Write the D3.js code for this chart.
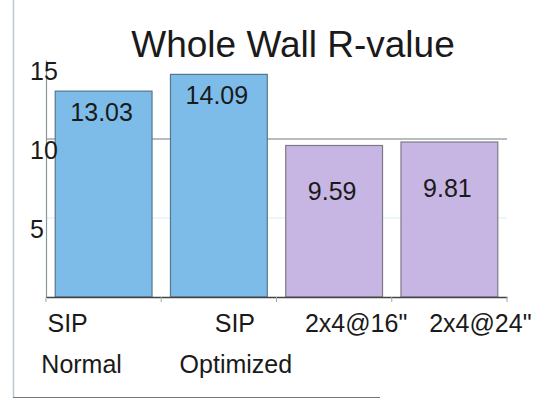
<!DOCTYPE html>
<html>
<head>
<meta charset="utf-8">
<script src="https://cdn.jsdelivr.net/npm/d3@7"></script>
<style>
  html, body { margin: 0; padding: 0; background: #fff; }
  svg { display: block; font-family: "Liberation Sans", Arial, sans-serif; }
</style>
</head>
<body>
<svg id="chart" width="542" height="399"></svg>
<script>
// Wall assemblies and their whole-wall R-values
const categories = ["SIP Normal", "SIP Optimized", "2x4@16\"", "2x4@24\""];
const categoryLines = [["SIP", "Normal"], ["SIP", "Optimized"], ["2x4@16\""], ["2x4@24\""]];
const rValues = [13.03, 14.09, 9.59, 9.81];
const wallType = ["SIP", "SIP", "stud", "stud"];
const yTicks = [5, 10, 15];
const titleText = "Whole Wall R-value";

// Styling per wall type
const fillByType = { SIP: "#7dbce9", stud: "#c7b5e3" };
const strokeByType = { SIP: "#56768a", stud: "#7d7a86" };
const labelDropByType = { SIP: 30, stud: 55 };
// Horizontal nudges of the category label lines (Excel-style wrapping)
const lineNudge = [[-36, -22], [16, 17], [22], [31]];

const svg = d3.select("#chart");

// Frame lines on the left and bottom
svg.append("line").attr("x1", 13.5).attr("x2", 13.5).attr("y1", 0).attr("y2", 398)
  .attr("stroke", "#b9c9cf").attr("stroke-width", 1.5);
svg.append("line").attr("x1", 13).attr("x2", 380).attr("y1", 397.5).attr("y2", 397.5)
  .attr("stroke", "#777").attr("stroke-width", 1.2);

const x = d3.scaleBand().domain(categories).range([46, 507]).paddingInner(0.16).paddingOuter(0.08);
const y = d3.scaleLinear().domain([0, 15]).range([297, 60]);

// Title
svg.append("text").attr("x", 293).attr("y", 57).attr("text-anchor", "middle")
  .attr("font-size", 37).attr("fill", "#1a1a1a").text(titleText);

// Gridlines
svg.append("line").attr("x1", 46).attr("x2", 507).attr("y1", y(10)).attr("y2", y(10))
  .attr("stroke", "#6f7a80").attr("stroke-width", 1.2);
svg.append("line").attr("x1", 46).attr("x2", 507).attr("y1", y(5)).attr("y2", y(5))
  .attr("stroke", "#d6eef3").attr("stroke-width", 1);

// Bars
svg.append("g").selectAll("rect").data(rValues).join("rect")
  .attr("x", (d, i) => x(categories[i]))
  .attr("y", d => y(d))
  .attr("width", x.bandwidth())
  .attr("height", d => y(0) - y(d))
  .attr("fill", (d, i) => fillByType[wallType[i]])
  .attr("stroke", (d, i) => strokeByType[wallType[i]])
  .attr("stroke-width", 1.2);

// Value labels
svg.append("g").selectAll("text").data(rValues).join("text")
  .attr("x", (d, i) => x(categories[i]) + x.bandwidth() / 2 - 2)
  .attr("y", (d, i) => y(d) + labelDropByType[wallType[i]])
  .attr("text-anchor", "middle").attr("font-size", 25).attr("fill", "#1a1a1a")
  .text(d => d.toFixed(2));

// Y axis
const yAxis = d3.axisLeft(y).tickValues(yTicks).tickSize(0).tickFormat(d3.format("d"));
const gy = svg.append("g").attr("transform", "translate(46,0)").call(yAxis);
gy.select(".domain").attr("stroke", "#8c969a").attr("stroke-width", 1.2);
gy.selectAll(".tick text")
  .attr("x", -16).attr("dy", 0).attr("y", 19)
  .attr("text-anchor", "start").attr("font-size", 25).attr("fill", "#1a1a1a")
  .attr("font-family", "'Liberation Sans', Arial, sans-serif");

// X axis baseline with boundary ticks
const xAxis = d3.axisBottom(x).tickSize(0).tickFormat("");
const gx = svg.append("g").attr("transform", `translate(0,${y(0)})`).call(xAxis);
gx.select(".domain").attr("stroke", "#444").attr("stroke-width", 1.6);
gx.selectAll(".tick").remove();
const boundaries = d3.range(categories.length + 1).map(i => x.range()[0] + i * (x.range()[1] - x.range()[0]) / categories.length);
gx.selectAll("line.bound").data(boundaries).join("line").attr("class", "bound")
  .attr("x1", d => d).attr("x2", d => d).attr("y1", 0).attr("y2", 5)
  .attr("stroke", "#9aa").attr("stroke-width", 1);

// Category labels
const labelG = svg.append("g").attr("font-size", 25).attr("fill", "#1a1a1a").attr("text-anchor", "middle");
categoryLines.forEach((lines, i) => {
  const cx = x(categories[i]) + x.bandwidth() / 2;
  lines.forEach((ln, j) => {
    labelG.append("text")
      .attr("x", cx + lineNudge[i][j])
      .attr("y", 332 + j * 41)
      .text(ln);
  });
});
</script>
</body>
</html>
